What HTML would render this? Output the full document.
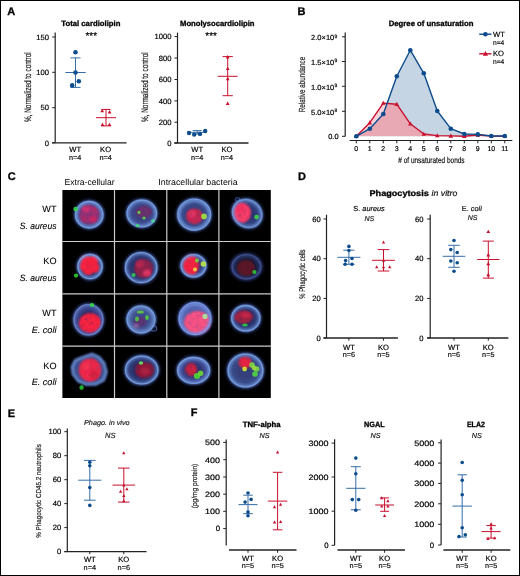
<!DOCTYPE html><html><head><meta charset="utf-8"><style>html,body{margin:0;padding:0;background:#fff;}svg{display:block;will-change:transform;}text{font-family:"Liberation Sans", sans-serif;text-rendering:geometricPrecision;}</style></head><body>
<svg width="520" height="576" viewBox="0 0 520 576">
<rect x="0" y="0" width="520" height="576" fill="#fff"/>
<text x="7.3" y="15.4" font-size="11" font-weight="bold" fill="#000" stroke="#000" stroke-width="0.3">A</text>
<text x="297.5" y="15.2" font-size="11" font-weight="bold" fill="#000" stroke="#000" stroke-width="0.3">B</text>
<text x="7.7" y="180.4" font-size="11" font-weight="bold" fill="#000" stroke="#000" stroke-width="0.3">C</text>
<text x="298.1" y="180" font-size="11" font-weight="bold" fill="#000" stroke="#000" stroke-width="0.3">D</text>
<text x="7.7" y="416.5" font-size="11" font-weight="bold" fill="#000" stroke="#000" stroke-width="0.3">E</text>
<text x="190.7" y="416.4" font-size="11" font-weight="bold" fill="#000" stroke="#000" stroke-width="0.3">F</text>
<text x="61.3" y="26.3" font-size="7.7" font-weight="bold" textLength="59.1" lengthAdjust="spacingAndGlyphs" fill="#000" stroke="#000" stroke-width="0.3">Total cardiolipin</text>
<text x="91.3" y="39.2" font-size="10" text-anchor="middle" fill="#000" stroke="#000" stroke-width="0.18">***</text>
<text transform="translate(27.9,87.2) rotate(-90)" x="0" y="3.29" font-size="9.4" text-anchor="middle" textLength="69.7" lengthAdjust="spacingAndGlyphs" fill="#222" stroke="#222" stroke-width="0.2">%, Normalized to control</text>
<line x1="55.2" y1="32.5" x2="55.2" y2="142.8" stroke="#222" stroke-width="1.2"/>
<line x1="52.2" y1="37" x2="55.2" y2="37" stroke="#222" stroke-width="1.0"/>
<text x="48.9" y="39.736" font-size="7.6" text-anchor="end" fill="#000" stroke="#000" stroke-width="0.18">150</text>
<line x1="52.2" y1="72.3" x2="55.2" y2="72.3" stroke="#222" stroke-width="1.0"/>
<text x="48.9" y="75.036" font-size="7.6" text-anchor="end" fill="#000" stroke="#000" stroke-width="0.18">100</text>
<line x1="52.2" y1="107.7" x2="55.2" y2="107.7" stroke="#222" stroke-width="1.0"/>
<text x="48.9" y="110.436" font-size="7.6" text-anchor="end" fill="#000" stroke="#000" stroke-width="0.18">50</text>
<line x1="52.2" y1="142.8" x2="55.2" y2="142.8" stroke="#222" stroke-width="1.0"/>
<text x="48.9" y="145.536" font-size="7.6" text-anchor="end" fill="#000" stroke="#000" stroke-width="0.18">0</text>
<line x1="52" y1="142.8" x2="126.6" y2="142.8" stroke="#222" stroke-width="1.3"/>
<line x1="75.5" y1="57.9" x2="75.5" y2="87.4" stroke="#356da8" stroke-width="1.0"/>
<line x1="65.3" y1="72.5" x2="85.7" y2="72.5" stroke="#356da8" stroke-width="1.0"/>
<line x1="70.5" y1="57.9" x2="80.5" y2="57.9" stroke="#356da8" stroke-width="1.0"/>
<line x1="70.5" y1="87.4" x2="80.5" y2="87.4" stroke="#356da8" stroke-width="1.0"/>
<circle cx="75.5" cy="52.2" r="2.3" fill="#0d4c8c"/>
<circle cx="75.5" cy="72.5" r="2.3" fill="#0d4c8c"/>
<circle cx="78.8" cy="81.2" r="2.3" fill="#0d4c8c"/>
<circle cx="72.2" cy="85.4" r="2.3" fill="#0d4c8c"/>
<line x1="106" y1="109.4" x2="106" y2="125.9" stroke="#c8102e" stroke-width="1.0"/>
<line x1="96" y1="117.7" x2="116" y2="117.7" stroke="#c8102e" stroke-width="1.0"/>
<line x1="101.3" y1="109.4" x2="110.7" y2="109.4" stroke="#c8102e" stroke-width="1.0"/>
<line x1="101.3" y1="125.9" x2="110.7" y2="125.9" stroke="#c8102e" stroke-width="1.0"/>
<path d="M100.30,112.31 L104.10,112.31 L102.20,108.89 Z" fill="#c8102e"/>
<path d="M107.70,113.51 L111.50,113.51 L109.60,110.09 Z" fill="#c8102e"/>
<path d="M100.60,126.11 L104.40,126.11 L102.50,122.69 Z" fill="#c8102e"/>
<path d="M107.60,126.11 L111.40,126.11 L109.50,122.69 Z" fill="#c8102e"/>
<text x="75.2" y="152.1" font-size="7.6" text-anchor="middle" fill="#000" stroke="#000" stroke-width="0.18">WT</text>
<text x="75.2" y="160.2" font-size="7.3" text-anchor="middle" fill="#111" stroke="#111" stroke-width="0.18">n=4</text>
<text x="105.6" y="152.1" font-size="7.6" text-anchor="middle" fill="#000" stroke="#000" stroke-width="0.18">KO</text>
<text x="105.6" y="160.2" font-size="7.3" text-anchor="middle" fill="#111" stroke="#111" stroke-width="0.18">n=4</text>
<text x="180" y="26.2" font-size="7.7" font-weight="bold" textLength="74.5" lengthAdjust="spacingAndGlyphs" fill="#000" stroke="#000" stroke-width="0.3">Monolysocardiolipin</text>
<text x="211.1" y="39.2" font-size="10" text-anchor="middle" fill="#000" stroke="#000" stroke-width="0.18">***</text>
<text transform="translate(145.2,87.2) rotate(-90)" x="0" y="3.29" font-size="9.4" text-anchor="middle" textLength="69.7" lengthAdjust="spacingAndGlyphs" fill="#222" stroke="#222" stroke-width="0.2">%, Normalized to control</text>
<line x1="177.5" y1="32.6" x2="177.5" y2="143" stroke="#222" stroke-width="1.2"/>
<line x1="174.5" y1="36.6" x2="177.5" y2="36.6" stroke="#222" stroke-width="1.0"/>
<text x="171.5" y="39.336" font-size="7.6" text-anchor="end" fill="#000" stroke="#000" stroke-width="0.18">1000</text>
<line x1="174.5" y1="58.0" x2="177.5" y2="58.0" stroke="#222" stroke-width="1.0"/>
<text x="171.5" y="60.736" font-size="7.6" text-anchor="end" fill="#000" stroke="#000" stroke-width="0.18">800</text>
<line x1="174.5" y1="79.5" x2="177.5" y2="79.5" stroke="#222" stroke-width="1.0"/>
<text x="171.5" y="82.236" font-size="7.6" text-anchor="end" fill="#000" stroke="#000" stroke-width="0.18">600</text>
<line x1="174.5" y1="100.9" x2="177.5" y2="100.9" stroke="#222" stroke-width="1.0"/>
<text x="171.5" y="103.63600000000001" font-size="7.6" text-anchor="end" fill="#000" stroke="#000" stroke-width="0.18">400</text>
<line x1="174.5" y1="122.2" x2="177.5" y2="122.2" stroke="#222" stroke-width="1.0"/>
<text x="171.5" y="124.936" font-size="7.6" text-anchor="end" fill="#000" stroke="#000" stroke-width="0.18">200</text>
<line x1="174.5" y1="143" x2="177.5" y2="143" stroke="#222" stroke-width="1.0"/>
<text x="171.5" y="145.736" font-size="7.6" text-anchor="end" fill="#000" stroke="#000" stroke-width="0.18">0</text>
<line x1="174.3" y1="143" x2="248.5" y2="143" stroke="#222" stroke-width="1.3"/>
<line x1="197.2" y1="130.6" x2="197.2" y2="134.0" stroke="#356da8" stroke-width="1.0"/>
<line x1="187.7" y1="132.3" x2="206.7" y2="132.3" stroke="#356da8" stroke-width="1.0"/>
<line x1="192.7" y1="130.6" x2="201.7" y2="130.6" stroke="#356da8" stroke-width="1.0"/>
<line x1="192.7" y1="134.0" x2="201.7" y2="134.0" stroke="#356da8" stroke-width="1.0"/>
<circle cx="189" cy="133" r="2.2" fill="#0d4c8c"/>
<circle cx="194.2" cy="134.6" r="2.2" fill="#0d4c8c"/>
<circle cx="200" cy="133.9" r="2.2" fill="#0d4c8c"/>
<circle cx="205.2" cy="131" r="2.2" fill="#0d4c8c"/>
<line x1="227.7" y1="56.6" x2="227.7" y2="95.7" stroke="#c8102e" stroke-width="1.0"/>
<line x1="217.7" y1="76.3" x2="237.7" y2="76.3" stroke="#c8102e" stroke-width="1.0"/>
<line x1="222.6" y1="56.6" x2="232.79999999999998" y2="56.6" stroke="#c8102e" stroke-width="1.0"/>
<line x1="222.6" y1="95.7" x2="232.79999999999998" y2="95.7" stroke="#c8102e" stroke-width="1.0"/>
<path d="M225.80,58.51 L229.60,58.51 L227.70,55.09 Z" fill="#c8102e"/>
<path d="M225.80,70.11 L229.60,70.11 L227.70,66.69 Z" fill="#c8102e"/>
<path d="M225.80,80.21 L229.60,80.21 L227.70,76.79 Z" fill="#c8102e"/>
<path d="M225.80,104.91 L229.60,104.91 L227.70,101.49 Z" fill="#c8102e"/>
<text x="197.2" y="152.1" font-size="7.6" text-anchor="middle" fill="#000" stroke="#000" stroke-width="0.18">WT</text>
<text x="197.2" y="160.2" font-size="7.3" text-anchor="middle" fill="#111" stroke="#111" stroke-width="0.18">n=4</text>
<text x="226.9" y="152.1" font-size="7.6" text-anchor="middle" fill="#000" stroke="#000" stroke-width="0.18">KO</text>
<text x="226.9" y="160.2" font-size="7.3" text-anchor="middle" fill="#111" stroke="#111" stroke-width="0.18">n=4</text>
<defs><clipPath id="wtclip"><polygon points="356.3,136.3 356.30,136.30 369.80,128.70 383.30,114.00 396.80,76.20 410.30,50.20 423.80,73.30 437.30,111.00 450.80,128.70 464.30,134.00 477.80,134.40 491.30,136.00 504.80,136.00 504.8,136.3"/></clipPath></defs>
<polygon points="356.3,136.3 356.30,136.30 369.80,122.70 383.30,103.10 396.80,104.20 410.30,123.80 423.80,134.00 437.30,135.60 450.80,135.90 464.30,136.30 477.80,135.00 491.30,136.00 504.80,136.20 504.8,136.3" fill="#f6d3d9"/>
<polygon points="356.3,136.3 356.30,136.30 369.80,128.70 383.30,114.00 396.80,76.20 410.30,50.20 423.80,73.30 437.30,111.00 450.80,128.70 464.30,134.00 477.80,134.40 491.30,136.00 504.80,136.00 504.8,136.3" fill="#c5d5e3"/>
<polygon points="356.3,136.3 356.30,136.30 369.80,122.70 383.30,103.10 396.80,104.20 410.30,123.80 423.80,134.00 437.30,135.60 450.80,135.90 464.30,136.30 477.80,135.00 491.30,136.00 504.80,136.20 504.8,136.3" fill="#e8a8b4" clip-path="url(#wtclip)"/>
<polyline points="356.30,136.30 369.80,122.70 383.30,103.10 396.80,104.20 410.30,123.80 423.80,134.00 437.30,135.60 450.80,135.90 464.30,136.30 477.80,135.00 491.30,136.00 504.80,136.20" fill="none" stroke="#c8102e" stroke-width="1.4" stroke-linejoin="round"/>
<path d="M354.00,138.07 L358.60,138.07 L356.30,133.93 Z" fill="#c8102e"/>
<path d="M367.50,124.47 L372.10,124.47 L369.80,120.33 Z" fill="#c8102e"/>
<path d="M381.00,104.87 L385.60,104.87 L383.30,100.73 Z" fill="#c8102e"/>
<path d="M394.50,105.97 L399.10,105.97 L396.80,101.83 Z" fill="#c8102e"/>
<path d="M408.00,125.57 L412.60,125.57 L410.30,121.43 Z" fill="#c8102e"/>
<path d="M421.50,135.77 L426.10,135.77 L423.80,131.63 Z" fill="#c8102e"/>
<path d="M435.00,137.37 L439.60,137.37 L437.30,133.23 Z" fill="#c8102e"/>
<path d="M448.50,137.67 L453.10,137.67 L450.80,133.53 Z" fill="#c8102e"/>
<path d="M462.00,138.07 L466.60,138.07 L464.30,133.93 Z" fill="#c8102e"/>
<path d="M475.50,136.77 L480.10,136.77 L477.80,132.63 Z" fill="#c8102e"/>
<path d="M489.00,137.77 L493.60,137.77 L491.30,133.63 Z" fill="#c8102e"/>
<path d="M502.50,137.97 L507.10,137.97 L504.80,133.83 Z" fill="#c8102e"/>
<polyline points="356.30,136.30 369.80,128.70 383.30,114.00 396.80,76.20 410.30,50.20 423.80,73.30 437.30,111.00 450.80,128.70 464.30,134.00 477.80,134.40 491.30,136.00 504.80,136.00" fill="none" stroke="#0d4c8c" stroke-width="1.4" stroke-linejoin="round"/>
<circle cx="356.3" cy="136.3" r="2.3" fill="#0d4c8c"/>
<circle cx="369.8" cy="128.7" r="2.3" fill="#0d4c8c"/>
<circle cx="383.3" cy="114" r="2.3" fill="#0d4c8c"/>
<circle cx="396.8" cy="76.2" r="2.3" fill="#0d4c8c"/>
<circle cx="410.3" cy="50.2" r="2.3" fill="#0d4c8c"/>
<circle cx="423.8" cy="73.3" r="2.3" fill="#0d4c8c"/>
<circle cx="437.3" cy="111" r="2.3" fill="#0d4c8c"/>
<circle cx="450.8" cy="128.7" r="2.3" fill="#0d4c8c"/>
<circle cx="464.3" cy="134" r="2.3" fill="#0d4c8c"/>
<circle cx="477.8" cy="134.4" r="2.3" fill="#0d4c8c"/>
<circle cx="491.3" cy="136" r="2.3" fill="#0d4c8c"/>
<circle cx="504.8" cy="136" r="2.3" fill="#0d4c8c"/>
<line x1="345.2" y1="32.4" x2="345.2" y2="136.6" stroke="#222" stroke-width="1.2"/>
<line x1="342" y1="36.8" x2="345.2" y2="36.8" stroke="#222" stroke-width="1.0"/>
<line x1="342" y1="61.5" x2="345.2" y2="61.5" stroke="#222" stroke-width="1.0"/>
<line x1="342" y1="86.3" x2="345.2" y2="86.3" stroke="#222" stroke-width="1.0"/>
<line x1="342" y1="111.3" x2="345.2" y2="111.3" stroke="#222" stroke-width="1.0"/>
<line x1="342" y1="136.3" x2="345.2" y2="136.3" stroke="#222" stroke-width="1.0"/>
<line x1="349.6" y1="140.5" x2="512.3" y2="140.5" stroke="#222" stroke-width="1.2"/>
<line x1="356.3" y1="140.5" x2="356.3" y2="143.3" stroke="#222" stroke-width="1.0"/>
<text x="356.3" y="151.3" font-size="7" text-anchor="middle" fill="#000" stroke="#000" stroke-width="0.18">0</text>
<line x1="369.8" y1="140.5" x2="369.8" y2="143.3" stroke="#222" stroke-width="1.0"/>
<text x="369.8" y="151.3" font-size="7" text-anchor="middle" fill="#000" stroke="#000" stroke-width="0.18">1</text>
<line x1="383.3" y1="140.5" x2="383.3" y2="143.3" stroke="#222" stroke-width="1.0"/>
<text x="383.3" y="151.3" font-size="7" text-anchor="middle" fill="#000" stroke="#000" stroke-width="0.18">2</text>
<line x1="396.8" y1="140.5" x2="396.8" y2="143.3" stroke="#222" stroke-width="1.0"/>
<text x="396.8" y="151.3" font-size="7" text-anchor="middle" fill="#000" stroke="#000" stroke-width="0.18">3</text>
<line x1="410.3" y1="140.5" x2="410.3" y2="143.3" stroke="#222" stroke-width="1.0"/>
<text x="410.3" y="151.3" font-size="7" text-anchor="middle" fill="#000" stroke="#000" stroke-width="0.18">4</text>
<line x1="423.8" y1="140.5" x2="423.8" y2="143.3" stroke="#222" stroke-width="1.0"/>
<text x="423.8" y="151.3" font-size="7" text-anchor="middle" fill="#000" stroke="#000" stroke-width="0.18">5</text>
<line x1="437.3" y1="140.5" x2="437.3" y2="143.3" stroke="#222" stroke-width="1.0"/>
<text x="437.3" y="151.3" font-size="7" text-anchor="middle" fill="#000" stroke="#000" stroke-width="0.18">6</text>
<line x1="450.8" y1="140.5" x2="450.8" y2="143.3" stroke="#222" stroke-width="1.0"/>
<text x="450.8" y="151.3" font-size="7" text-anchor="middle" fill="#000" stroke="#000" stroke-width="0.18">7</text>
<line x1="464.3" y1="140.5" x2="464.3" y2="143.3" stroke="#222" stroke-width="1.0"/>
<text x="464.3" y="151.3" font-size="7" text-anchor="middle" fill="#000" stroke="#000" stroke-width="0.18">8</text>
<line x1="477.8" y1="140.5" x2="477.8" y2="143.3" stroke="#222" stroke-width="1.0"/>
<text x="477.8" y="151.3" font-size="7" text-anchor="middle" fill="#000" stroke="#000" stroke-width="0.18">9</text>
<line x1="491.3" y1="140.5" x2="491.3" y2="143.3" stroke="#222" stroke-width="1.0"/>
<text x="491.3" y="151.3" font-size="7" text-anchor="middle" fill="#000" stroke="#000" stroke-width="0.18">10</text>
<line x1="504.8" y1="140.5" x2="504.8" y2="143.3" stroke="#222" stroke-width="1.0"/>
<text x="504.8" y="151.3" font-size="7" text-anchor="middle" fill="#000" stroke="#000" stroke-width="0.18">11</text>
<text x="334.3" y="40.0" font-size="7.4" text-anchor="end" textLength="23.2" lengthAdjust="spacingAndGlyphs" fill="#000" stroke="#000" stroke-width="0.18">2.0×10</text>
<text x="334.5" y="37.699999999999996" font-size="5.0" fill="#000" stroke="#000" stroke-width="0.18">9</text>
<text x="334.3" y="64.7" font-size="7.4" text-anchor="end" textLength="23.2" lengthAdjust="spacingAndGlyphs" fill="#000" stroke="#000" stroke-width="0.18">1.5×10</text>
<text x="334.5" y="62.4" font-size="5.0" fill="#000" stroke="#000" stroke-width="0.18">9</text>
<text x="334.3" y="89.5" font-size="7.4" text-anchor="end" textLength="23.2" lengthAdjust="spacingAndGlyphs" fill="#000" stroke="#000" stroke-width="0.18">1.0×10</text>
<text x="334.5" y="87.2" font-size="5.0" fill="#000" stroke="#000" stroke-width="0.18">9</text>
<text x="334.3" y="114.5" font-size="7.4" text-anchor="end" textLength="23.2" lengthAdjust="spacingAndGlyphs" fill="#000" stroke="#000" stroke-width="0.18">5.0×10</text>
<text x="334.5" y="112.2" font-size="5.0" fill="#000" stroke="#000" stroke-width="0.18">8</text>
<text x="338.5" y="139.0" font-size="7.4" text-anchor="end" fill="#000" stroke="#000" stroke-width="0.18">0.0</text>
<text transform="translate(301.8,84.5) rotate(-90)" x="0" y="3.08" font-size="8.8" text-anchor="middle" textLength="55.4" lengthAdjust="spacingAndGlyphs" fill="#222" stroke="#222" stroke-width="0.2">Relative abundance</text>
<text x="388.7" y="26.4" font-size="7.7" font-weight="bold" textLength="84.8" lengthAdjust="spacingAndGlyphs" fill="#000" stroke="#000" stroke-width="0.3">Degree of unsaturation</text>
<text x="398.3" y="162.7" font-size="8.4" textLength="66.3" lengthAdjust="spacingAndGlyphs" fill="#111" stroke="#111" stroke-width="0.18"># of unsaturated bonds</text>
<line x1="479.2" y1="34.2" x2="491.5" y2="34.2" stroke="#0d4c8c" stroke-width="1.4"/>
<circle cx="485.4" cy="34.2" r="2.3" fill="#0d4c8c"/>
<text x="493" y="36.8" font-size="7.6" fill="#000" stroke="#000" stroke-width="0.18">WT</text>
<text x="493" y="44.8" font-size="6.9" textLength="11.3" lengthAdjust="spacingAndGlyphs" fill="#111" stroke="#111" stroke-width="0.18">n=4</text>
<line x1="479.2" y1="53.8" x2="491.5" y2="53.8" stroke="#c8102e" stroke-width="1.4"/>
<path d="M482.80,55.64 L488.00,55.64 L485.40,50.96 Z" fill="#c8102e"/>
<text x="493" y="56.4" font-size="7.6" fill="#000" stroke="#000" stroke-width="0.18">KO</text>
<text x="493" y="64.2" font-size="6.9" textLength="11.3" lengthAdjust="spacingAndGlyphs" fill="#111" stroke="#111" stroke-width="0.18">n=4</text>
<defs>
<filter id="b3" x="-60%" y="-60%" width="220%" height="220%"><feGaussianBlur stdDeviation="3"/></filter>
<filter id="b2" x="-60%" y="-60%" width="220%" height="220%"><feGaussianBlur stdDeviation="2"/></filter>
<filter id="b15" x="-60%" y="-60%" width="220%" height="220%"><feGaussianBlur stdDeviation="1.5"/></filter>
<filter id="b11" x="-60%" y="-60%" width="220%" height="220%"><feGaussianBlur stdDeviation="1.1"/></filter>
<filter id="b1" x="-60%" y="-60%" width="220%" height="220%"><feGaussianBlur stdDeviation="1"/></filter>
<filter id="b08" x="-60%" y="-60%" width="220%" height="220%"><feGaussianBlur stdDeviation="0.8"/></filter>
<filter id="b07" x="-60%" y="-60%" width="220%" height="220%"><feGaussianBlur stdDeviation="0.7"/></filter>
<filter id="b05" x="-60%" y="-60%" width="220%" height="220%"><feGaussianBlur stdDeviation="0.5"/></filter>
<clipPath id="cc00"><rect x="62.4" y="190.0" width="51.60" height="51.00"/></clipPath>
<clipPath id="cc01"><rect x="115.0" y="190.0" width="51.30" height="51.00"/></clipPath>
<clipPath id="cc02"><rect x="167.3" y="190.0" width="51.10" height="51.00"/></clipPath>
<clipPath id="cc03"><rect x="219.4" y="190.0" width="51.40" height="51.00"/></clipPath>
<clipPath id="cc10"><rect x="62.4" y="242.0" width="51.60" height="51.30"/></clipPath>
<clipPath id="cc11"><rect x="115.0" y="242.0" width="51.30" height="51.30"/></clipPath>
<clipPath id="cc12"><rect x="167.3" y="242.0" width="51.10" height="51.30"/></clipPath>
<clipPath id="cc13"><rect x="219.4" y="242.0" width="51.40" height="51.30"/></clipPath>
<clipPath id="cc20"><rect x="62.4" y="294.3" width="51.60" height="51.30"/></clipPath>
<clipPath id="cc21"><rect x="115.0" y="294.3" width="51.30" height="51.30"/></clipPath>
<clipPath id="cc22"><rect x="167.3" y="294.3" width="51.10" height="51.30"/></clipPath>
<clipPath id="cc23"><rect x="219.4" y="294.3" width="51.40" height="51.30"/></clipPath>
<clipPath id="cc30"><rect x="62.4" y="346.6" width="51.60" height="51.40"/></clipPath>
<clipPath id="cc31"><rect x="115.0" y="346.6" width="51.30" height="51.40"/></clipPath>
<clipPath id="cc32"><rect x="167.3" y="346.6" width="51.10" height="51.40"/></clipPath>
<clipPath id="cc33"><rect x="219.4" y="346.6" width="51.40" height="51.40"/></clipPath>
<filter id="tex" x="-30%" y="-30%" width="160%" height="160%"><feGaussianBlur in="SourceGraphic" stdDeviation="1.1" result="bl"/><feTurbulence type="fractalNoise" baseFrequency="0.28" numOctaves="2" seed="7" result="n"/><feColorMatrix in="n" type="matrix" values="0 0 0 0 1  0 0 0 0 1  0 0 0 0 1  0.9 0.9 0 0 0" result="nm"/><feComposite in="bl" in2="nm" operator="arithmetic" k1="0.6" k2="0.48" k3="0" k4="0"/></filter>
</defs>
<rect x="62.4" y="190.0" width="208.40" height="208.00" fill="#000"/>
<g clip-path="url(#cc00)">
<radialGradient id="g00"><stop offset="0" stop-color="#3a2e78"/><stop offset="0.45" stop-color="#3a2e78"/><stop offset="1" stop-color="#3a5090"/></radialGradient>
<ellipse cx="89.2" cy="214.7" rx="14.8" ry="14.3" fill="none" stroke="#1e2858" stroke-width="2.2" filter="url(#b15)"/>
<ellipse cx="89.2" cy="214.7" rx="13.600000000000001" ry="13.100000000000001" fill="url(#g00)" filter="url(#b1)"/>
<ellipse cx="89.5" cy="214.5" rx="10.5" ry="10" fill="#8e3074" filter="url(#tex)"/>
<ellipse cx="86" cy="209" rx="4" ry="3.5" fill="#c83070" filter="url(#tex)"/>
<ellipse cx="93" cy="219" rx="4" ry="3.5" fill="#c02868" filter="url(#tex)"/>
<ellipse cx="84" cy="219" rx="3" ry="3" fill="#a82a66" filter="url(#tex)"/>
<ellipse cx="94" cy="210" rx="2.5" ry="2.5" fill="#b02a66" filter="url(#tex)"/>
<ellipse cx="89.2" cy="214.7" rx="12.80" ry="12.30" fill="none" stroke="#78a0e6" stroke-width="3.40" stroke-opacity="0.75" filter="url(#b1)"/>
<ellipse cx="89.2" cy="214.7" rx="13.70" ry="13.20" fill="none" stroke="#78a0e6" stroke-width="1.3" stroke-opacity="0.9" filter="url(#b05)"/>
<ellipse cx="75.6" cy="209" rx="2.3" ry="2.3" fill="#30e040" fill-opacity="0.85" filter="url(#b05)"/>
</g>
<g clip-path="url(#cc01)">
<radialGradient id="g01"><stop offset="0" stop-color="#3a4284"/><stop offset="0.45" stop-color="#3a4284"/><stop offset="1" stop-color="#3e5496"/></radialGradient>
<ellipse cx="141.8" cy="213.5" rx="15.8" ry="14.5" fill="none" stroke="#1e2858" stroke-width="2.2" filter="url(#b15)"/>
<ellipse cx="141.8" cy="213.5" rx="14.600000000000001" ry="13.3" fill="url(#g01)" filter="url(#b1)"/>
<ellipse cx="144" cy="212" rx="8" ry="6" fill="#6a2e6a" filter="url(#tex)"/>
<ellipse cx="141.8" cy="213.5" rx="14.00" ry="12.70" fill="none" stroke="#78a0e6" stroke-width="3.00" stroke-opacity="0.75" filter="url(#b1)"/>
<ellipse cx="141.8" cy="213.5" rx="14.70" ry="13.40" fill="none" stroke="#78a0e6" stroke-width="1.3" stroke-opacity="0.9" filter="url(#b05)"/>
<ellipse cx="139" cy="212.4" rx="1.6" ry="1.6" fill="#60e040" fill-opacity="0.85" filter="url(#b05)"/>
<ellipse cx="144" cy="218" rx="1.6" ry="1.6" fill="#60e040" fill-opacity="0.85" filter="url(#b05)"/>
<ellipse cx="137.6" cy="225.6" rx="1.9" ry="1.6" fill="#40e070" fill-opacity="0.85" filter="url(#b05)"/>
<ellipse cx="153" cy="221" rx="1.9" ry="1.8" fill="#40e090" fill-opacity="0.85" filter="url(#b05)"/>
</g>
<g clip-path="url(#cc02)">
<radialGradient id="g02"><stop offset="0" stop-color="#34427e"/><stop offset="0.45" stop-color="#34427e"/><stop offset="1" stop-color="#3c5296"/></radialGradient>
<ellipse cx="194.2" cy="214.6" rx="17.5" ry="16.5" fill="none" stroke="#1e2858" stroke-width="2.2" filter="url(#b15)"/>
<ellipse cx="194.2" cy="214.6" rx="16.3" ry="15.3" fill="url(#g02)" filter="url(#b1)"/>
<ellipse cx="194.5" cy="216.2" rx="8.5" ry="7.8" fill="#c02850" filter="url(#tex)"/>
<ellipse cx="192" cy="214" rx="4" ry="4" fill="#d83060" filter="url(#tex)"/>
<ellipse cx="194.2" cy="214.6" rx="15.40" ry="14.40" fill="none" stroke="#78a0e6" stroke-width="3.60" stroke-opacity="0.75" filter="url(#b1)"/>
<ellipse cx="194.2" cy="214.6" rx="16.40" ry="15.40" fill="none" stroke="#78a0e6" stroke-width="1.3" stroke-opacity="0.9" filter="url(#b05)"/>
<ellipse cx="204" cy="216.4" rx="2.8" ry="2.8" fill="#a8f040" fill-opacity="0.85" filter="url(#b05)"/>
</g>
<g clip-path="url(#cc03)">
<radialGradient id="g03"><stop offset="0" stop-color="#2a3470"/><stop offset="0.45" stop-color="#2a3470"/><stop offset="1" stop-color="#3a5090"/></radialGradient>
<ellipse cx="247.2" cy="213.5" rx="16.2" ry="14.5" fill="none" stroke="#1e2858" stroke-width="2.2" filter="url(#b15)" transform="rotate(35 247.2 213.5)"/>
<ellipse cx="247.2" cy="213.5" rx="15.0" ry="13.3" fill="url(#g03)" filter="url(#b1)" transform="rotate(35 247.2 213.5)"/>
<ellipse cx="242" cy="212.7" rx="9" ry="10.3" fill="#f23a66" filter="url(#tex)"/>
<ellipse cx="240" cy="208" rx="4" ry="4" fill="#f03060" filter="url(#tex)"/>
<ellipse cx="237.5" cy="199.5" rx="2.2" ry="1.8" fill="none" stroke="#2a3a7a" stroke-width="1.3" filter="url(#b05)"/>
<ellipse cx="247.2" cy="213.5" rx="14.60" ry="12.90" fill="none" stroke="#78a0e6" stroke-width="2.60" stroke-opacity="0.75" filter="url(#b1)" transform="rotate(35 247.2 213.5)"/>
<ellipse cx="247.2" cy="213.5" rx="15.10" ry="13.40" fill="none" stroke="#78a0e6" stroke-width="1.3" stroke-opacity="0.9" filter="url(#b05)" transform="rotate(35 247.2 213.5)"/>
<ellipse cx="256.6" cy="217" rx="2.3" ry="2.3" fill="#40e040" fill-opacity="0.85" filter="url(#b05)"/>
</g>
<g clip-path="url(#cc10)">
<radialGradient id="g10"><stop offset="0" stop-color="#2a3470"/><stop offset="0.45" stop-color="#2a3470"/><stop offset="1" stop-color="#3a5090"/></radialGradient>
<ellipse cx="90" cy="266.6" rx="13.2" ry="13.2" fill="none" stroke="#1e2858" stroke-width="2.2" filter="url(#b15)"/>
<ellipse cx="90" cy="266.6" rx="12.0" ry="12.0" fill="url(#g10)" filter="url(#b1)"/>
<ellipse cx="89.7" cy="264.5" rx="8.5" ry="8.8" fill="#f0223f" filter="url(#tex)"/>
<ellipse cx="85" cy="260" rx="4.5" ry="4.5" fill="#f0223f" filter="url(#tex)"/>
<ellipse cx="94" cy="259.5" rx="4.5" ry="4" fill="#f0223f" filter="url(#tex)"/>
<ellipse cx="95.5" cy="268" rx="4" ry="4.5" fill="#f0223f" filter="url(#tex)"/>
<ellipse cx="88" cy="271" rx="5" ry="4" fill="#f0223f" filter="url(#tex)"/>
<ellipse cx="83.5" cy="266.5" rx="4" ry="4" fill="#f0223f" filter="url(#tex)"/>
<ellipse cx="90" cy="266.6" rx="11.60" ry="11.60" fill="none" stroke="#78a0e6" stroke-width="2.60" stroke-opacity="0.75" filter="url(#b1)"/>
<ellipse cx="90" cy="266.6" rx="12.10" ry="12.10" fill="none" stroke="#78a0e6" stroke-width="1.3" stroke-opacity="0.9" filter="url(#b05)"/>
<ellipse cx="76" cy="275.6" rx="2.1" ry="2.1" fill="#30e030" fill-opacity="0.85" filter="url(#b05)"/>
</g>
<g clip-path="url(#cc11)">
<radialGradient id="g11"><stop offset="0" stop-color="#262e64"/><stop offset="0.45" stop-color="#262e64"/><stop offset="1" stop-color="#354a8a"/></radialGradient>
<ellipse cx="141.2" cy="267.6" rx="16.8" ry="16.0" fill="none" stroke="#1e2858" stroke-width="2.2" filter="url(#b15)"/>
<ellipse cx="141.2" cy="267.6" rx="15.600000000000001" ry="14.8" fill="url(#g11)" filter="url(#b1)"/>
<ellipse cx="143.5" cy="268.5" rx="9.5" ry="9.5" fill="#8a2048" filter="url(#tex)"/>
<ellipse cx="140" cy="264" rx="4" ry="4" fill="#b02850" filter="url(#tex)"/>
<ellipse cx="147" cy="273" rx="4" ry="3.5" fill="#d83060" filter="url(#tex)"/>
<ellipse cx="141.2" cy="267.6" rx="15.30" ry="14.50" fill="none" stroke="#78a0e6" stroke-width="2.40" stroke-opacity="0.75" filter="url(#b1)"/>
<ellipse cx="141.2" cy="267.6" rx="15.70" ry="14.90" fill="none" stroke="#78a0e6" stroke-width="1.3" stroke-opacity="0.9" filter="url(#b05)"/>
<ellipse cx="133.6" cy="275" rx="2.0" ry="2.0" fill="#30d050" fill-opacity="0.85" filter="url(#b05)"/>
</g>
<g clip-path="url(#cc12)">
<radialGradient id="g12"><stop offset="0" stop-color="#30387a"/><stop offset="0.45" stop-color="#30387a"/><stop offset="1" stop-color="#3c5296"/></radialGradient>
<ellipse cx="193.5" cy="265.8" rx="13.5" ry="12.2" fill="none" stroke="#1e2858" stroke-width="2.2" filter="url(#b15)"/>
<ellipse cx="193.5" cy="265.8" rx="12.3" ry="11.0" fill="url(#g12)" filter="url(#b1)"/>
<ellipse cx="190.8" cy="265.2" rx="8.2" ry="10.5" fill="#f0223f" filter="url(#tex)"/>
<ellipse cx="193.5" cy="265.8" rx="11.90" ry="10.60" fill="none" stroke="#78a0e6" stroke-width="2.60" stroke-opacity="0.75" filter="url(#b1)"/>
<ellipse cx="193.5" cy="265.8" rx="12.40" ry="11.10" fill="none" stroke="#78a0e6" stroke-width="1.3" stroke-opacity="0.9" filter="url(#b05)"/>
<ellipse cx="197" cy="260.4" rx="2" ry="2" fill="#60e040" fill-opacity="0.85" filter="url(#b05)"/>
<ellipse cx="203.4" cy="264" rx="2.8" ry="2.8" fill="#c0f040" fill-opacity="0.85" filter="url(#b05)"/>
<ellipse cx="195" cy="269.6" rx="2" ry="2" fill="#f0e040" fill-opacity="0.85" filter="url(#b05)"/>
</g>
<g clip-path="url(#cc13)">
<radialGradient id="g13"><stop offset="0" stop-color="#12142c"/><stop offset="0.45" stop-color="#12142c"/><stop offset="1" stop-color="#242e5c"/></radialGradient>
<ellipse cx="246.5" cy="266.8" rx="15.5" ry="13.2" fill="none" stroke="#1e2858" stroke-width="2.2" filter="url(#b15)"/>
<ellipse cx="246.5" cy="266.8" rx="14.3" ry="12.0" fill="url(#g13)" filter="url(#b1)"/>
<ellipse cx="246" cy="268" rx="9" ry="8" fill="#5a1428" filter="url(#tex)"/>
<ellipse cx="246.5" cy="266.8" rx="14.10" ry="11.80" fill="none" stroke="#405090" stroke-width="2.20" stroke-opacity="0.75" filter="url(#b1)"/>
<ellipse cx="246.5" cy="266.8" rx="14.40" ry="12.10" fill="none" stroke="#405090" stroke-width="1.3" stroke-opacity="0.9" filter="url(#b05)"/>
<ellipse cx="254.4" cy="272" rx="2.1" ry="2.1" fill="#30d030" fill-opacity="0.85" filter="url(#b05)"/>
</g>
<g clip-path="url(#cc20)">
<radialGradient id="g20"><stop offset="0" stop-color="#262a60"/><stop offset="0.45" stop-color="#262a60"/><stop offset="1" stop-color="#4858a8"/></radialGradient>
<ellipse cx="88.5" cy="319.8" rx="15.5" ry="16.2" fill="none" stroke="#1e2858" stroke-width="2.2" filter="url(#b15)"/>
<ellipse cx="88.5" cy="319.8" rx="14.3" ry="15.0" fill="url(#g20)" filter="url(#b1)"/>
<ellipse cx="90" cy="323" rx="11" ry="10" fill="#f0223f" filter="url(#tex)"/>
<ellipse cx="88.5" cy="319.8" rx="14.20" ry="14.90" fill="none" stroke="#6a84d0" stroke-width="2.00" stroke-opacity="0.75" filter="url(#b1)"/>
<ellipse cx="88.5" cy="319.8" rx="14.40" ry="15.10" fill="none" stroke="#6a84d0" stroke-width="1.3" stroke-opacity="0.9" filter="url(#b05)"/>
<ellipse cx="92" cy="305" rx="2.3" ry="2.0" fill="#30e040" fill-opacity="0.85" filter="url(#b05)"/>
</g>
<g clip-path="url(#cc21)">
<radialGradient id="g21"><stop offset="0" stop-color="#3c4c8a"/><stop offset="0.45" stop-color="#3c4c8a"/><stop offset="1" stop-color="#5068a8"/></radialGradient>
<ellipse cx="141" cy="319.5" rx="15" ry="14.5" fill="none" stroke="#1e2858" stroke-width="2.2" filter="url(#b15)"/>
<ellipse cx="141" cy="319.5" rx="13.8" ry="13.3" fill="url(#g21)" filter="url(#b1)"/>
<ellipse cx="140" cy="322" rx="6" ry="5" fill="#5a3070" filter="url(#tex)"/>
<ellipse cx="136" cy="326" rx="3" ry="2.5" fill="#8060a0" filter="url(#tex)"/>
<ellipse cx="153.5" cy="328.5" rx="3.2" ry="2.6" fill="none" stroke="#34487e" stroke-width="1.3" filter="url(#b05)"/>
<ellipse cx="141" cy="319.5" rx="13.20" ry="12.70" fill="none" stroke="#78a0e6" stroke-width="3.00" stroke-opacity="0.75" filter="url(#b1)"/>
<ellipse cx="141" cy="319.5" rx="13.90" ry="13.40" fill="none" stroke="#78a0e6" stroke-width="1.3" stroke-opacity="0.9" filter="url(#b05)"/>
<ellipse cx="140.4" cy="312" rx="3.5" ry="1.6" fill="#60d040" fill-opacity="0.85" filter="url(#b05)"/>
<ellipse cx="137" cy="319" rx="2.0" ry="2.4" fill="#50d040" fill-opacity="0.85" filter="url(#b05)"/>
<ellipse cx="147" cy="317.6" rx="1.8" ry="2.5" fill="#50d040" fill-opacity="0.85" filter="url(#b05)"/>
</g>
<g clip-path="url(#cc22)">
<radialGradient id="g22"><stop offset="0" stop-color="#4a5aa8"/><stop offset="0.45" stop-color="#4a5aa8"/><stop offset="1" stop-color="#6078c0"/></radialGradient>
<ellipse cx="195" cy="318.6" rx="17" ry="17" fill="none" stroke="#1e2858" stroke-width="2.2" filter="url(#b15)"/>
<ellipse cx="195" cy="318.6" rx="15.8" ry="15.8" fill="url(#g22)" filter="url(#b1)"/>
<ellipse cx="197.3" cy="322.5" rx="13.3" ry="11.5" fill="#f05080" filter="url(#tex)"/>
<ellipse cx="195" cy="318.6" rx="15.20" ry="15.20" fill="none" stroke="#7a98ec" stroke-width="3.00" stroke-opacity="0.75" filter="url(#b1)"/>
<ellipse cx="195" cy="318.6" rx="15.90" ry="15.90" fill="none" stroke="#7a98ec" stroke-width="1.3" stroke-opacity="0.9" filter="url(#b05)"/>
<ellipse cx="205" cy="316.4" rx="2.6" ry="2.6" fill="#a0f0a0" fill-opacity="0.85" filter="url(#b05)"/>
</g>
<g clip-path="url(#cc23)">
<radialGradient id="g23"><stop offset="0" stop-color="#262e64"/><stop offset="0.45" stop-color="#262e64"/><stop offset="1" stop-color="#354a8a"/></radialGradient>
<ellipse cx="245.8" cy="318.2" rx="15.2" ry="13.8" fill="none" stroke="#1e2858" stroke-width="2.2" filter="url(#b15)"/>
<ellipse cx="245.8" cy="318.2" rx="14.0" ry="12.600000000000001" fill="url(#g23)" filter="url(#b1)"/>
<ellipse cx="243.5" cy="317" rx="9.5" ry="6.5" fill="#a02040" filter="url(#tex)"/>
<ellipse cx="246" cy="315" rx="4" ry="3" fill="#c02848" filter="url(#tex)"/>
<ellipse cx="245.8" cy="318.2" rx="13.60" ry="12.20" fill="none" stroke="#78a0e6" stroke-width="2.60" stroke-opacity="0.75" filter="url(#b1)"/>
<ellipse cx="245.8" cy="318.2" rx="14.10" ry="12.70" fill="none" stroke="#78a0e6" stroke-width="1.3" stroke-opacity="0.9" filter="url(#b05)"/>
<ellipse cx="245" cy="325" rx="2.8" ry="1.6" fill="#30d040" fill-opacity="0.85" filter="url(#b05)"/>
</g>
<g clip-path="url(#cc30)">
<radialGradient id="g30"><stop offset="0" stop-color="#2a3470"/><stop offset="0.45" stop-color="#2a3470"/><stop offset="1" stop-color="#3a5090"/></radialGradient>
<path d="M80,358.5 L92,354.2 L99,357.5 L104,363.5 L106.2,372 L103.5,380 L96,384 L86,384.3 L78.5,381 L73.2,374 L72.4,366.5 L75.5,360.5 Z" fill="none" stroke="#1e2858" stroke-width="2.5" stroke-linejoin="round" filter="url(#b15)"/>
<path d="M80,358.5 L92,354.2 L99,357.5 L104,363.5 L106.2,372 L103.5,380 L96,384 L86,384.3 L78.5,381 L73.2,374 L72.4,366.5 L75.5,360.5 Z" fill="#3a5090" stroke="none" filter="url(#b1)"/>
<ellipse cx="90" cy="370" rx="11.2" ry="11.8" fill="#e82848" filter="url(#tex)"/>
<ellipse cx="86" cy="366" rx="4" ry="4" fill="#f03050" filter="url(#tex)"/>
<ellipse cx="94" cy="375" rx="4" ry="4" fill="#d02040" filter="url(#tex)"/>
<path d="M80,358.5 L92,354.2 L99,357.5 L104,363.5 L106.2,372 L103.5,380 L96,384 L86,384.3 L78.5,381 L73.2,374 L72.4,366.5 L75.5,360.5 Z" fill="none" stroke="#78a0e6" stroke-width="2.80" stroke-opacity="0.8" stroke-linejoin="round" filter="url(#b1)"/>
<ellipse cx="81.6" cy="387.6" rx="2.2" ry="2.4" fill="#20d030" fill-opacity="0.85" filter="url(#b05)"/>
</g>
<g clip-path="url(#cc31)">
<radialGradient id="g31"><stop offset="0" stop-color="#262e64"/><stop offset="0.45" stop-color="#262e64"/><stop offset="1" stop-color="#354a8a"/></radialGradient>
<ellipse cx="141.7" cy="370" rx="17.3" ry="15" fill="none" stroke="#1e2858" stroke-width="2.2" filter="url(#b15)"/>
<ellipse cx="141.7" cy="370" rx="16.1" ry="13.8" fill="url(#g31)" filter="url(#b1)"/>
<ellipse cx="144.5" cy="370" rx="9.5" ry="8" fill="#8a1838" filter="url(#tex)"/>
<ellipse cx="145" cy="371" rx="5" ry="4" fill="#a82040" filter="url(#tex)"/>
<ellipse cx="141.7" cy="370" rx="15.80" ry="13.50" fill="none" stroke="#78a0e6" stroke-width="2.40" stroke-opacity="0.75" filter="url(#b1)"/>
<ellipse cx="141.7" cy="370" rx="16.20" ry="13.90" fill="none" stroke="#78a0e6" stroke-width="1.3" stroke-opacity="0.9" filter="url(#b05)"/>
<ellipse cx="141" cy="363" rx="2.2" ry="1.8" fill="#60f060" fill-opacity="0.85" filter="url(#b05)"/>
</g>
<g clip-path="url(#cc32)">
<radialGradient id="g32"><stop offset="0" stop-color="#2c3470"/><stop offset="0.45" stop-color="#2c3470"/><stop offset="1" stop-color="#5060b0"/></radialGradient>
<ellipse cx="193.6" cy="370.4" rx="17" ry="14" fill="none" stroke="#1e2858" stroke-width="2.2" filter="url(#b15)"/>
<ellipse cx="193.6" cy="370.4" rx="15.8" ry="12.8" fill="url(#g32)" filter="url(#b1)"/>
<ellipse cx="191.2" cy="369.5" rx="6" ry="6.5" fill="#c02040" filter="url(#tex)"/>
<ellipse cx="193.6" cy="370.4" rx="15.40" ry="12.40" fill="none" stroke="#78a0e6" stroke-width="2.60" stroke-opacity="0.75" filter="url(#b1)"/>
<ellipse cx="193.6" cy="370.4" rx="15.90" ry="12.90" fill="none" stroke="#78a0e6" stroke-width="1.3" stroke-opacity="0.9" filter="url(#b05)"/>
<ellipse cx="197" cy="376" rx="3.2" ry="3" fill="#50e030" fill-opacity="0.85" filter="url(#b05)"/>
<ellipse cx="200.6" cy="373.2" rx="2.7" ry="2.7" fill="#70e030" fill-opacity="0.85" filter="url(#b05)"/>
</g>
<g clip-path="url(#cc33)">
<radialGradient id="g33"><stop offset="0" stop-color="#34407a"/><stop offset="0.45" stop-color="#34407a"/><stop offset="1" stop-color="#3e5696"/></radialGradient>
<ellipse cx="245.5" cy="370.5" rx="18.5" ry="17.5" fill="none" stroke="#1e2858" stroke-width="2.2" filter="url(#b15)"/>
<ellipse cx="245.5" cy="370.5" rx="17.3" ry="16.3" fill="url(#g33)" filter="url(#b1)"/>
<ellipse cx="245" cy="362.5" rx="6.5" ry="6" fill="#e02040" filter="url(#tex)"/>
<ellipse cx="245.5" cy="370.5" rx="16.80" ry="15.80" fill="none" stroke="#78a0e6" stroke-width="2.80" stroke-opacity="0.75" filter="url(#b1)"/>
<ellipse cx="245.5" cy="370.5" rx="17.40" ry="16.40" fill="none" stroke="#78a0e6" stroke-width="1.3" stroke-opacity="0.9" filter="url(#b05)"/>
<ellipse cx="244.6" cy="369" rx="2.4" ry="2.4" fill="#e0f030" fill-opacity="0.85" filter="url(#b05)"/>
<ellipse cx="252" cy="365" rx="2.8" ry="2.8" fill="#80e040" fill-opacity="0.85" filter="url(#b05)"/>
<ellipse cx="256.6" cy="369" rx="2.8" ry="2.8" fill="#80e040" fill-opacity="0.85" filter="url(#b05)"/>
<ellipse cx="255" cy="374" rx="2.8" ry="2.8" fill="#50e040" fill-opacity="0.85" filter="url(#b05)"/>
<ellipse cx="254" cy="368" rx="2.4" ry="2.4" fill="#a0e040" fill-opacity="0.85" filter="url(#b05)"/>
</g>
<line x1="114.5" y1="190.0" x2="114.5" y2="398.0" stroke="#cccccc" stroke-width="1.2"/>
<line x1="166.8" y1="190.0" x2="166.8" y2="398.0" stroke="#cccccc" stroke-width="1.2"/>
<line x1="218.9" y1="190.0" x2="218.9" y2="398.0" stroke="#cccccc" stroke-width="1.2"/>
<line x1="62.4" y1="241.5" x2="270.8" y2="241.5" stroke="#cccccc" stroke-width="1.2"/>
<line x1="62.4" y1="293.8" x2="270.8" y2="293.8" stroke="#cccccc" stroke-width="1.2"/>
<line x1="62.4" y1="346.1" x2="270.8" y2="346.1" stroke="#cccccc" stroke-width="1.2"/>
<text x="64.6" y="185.4" font-size="8.7" fill="#000" textLength="49.9" lengthAdjust="spacingAndGlyphs">Extra-cellular</text>
<text x="158.3" y="185.4" font-size="8.7" fill="#000" textLength="79.3" lengthAdjust="spacingAndGlyphs">Intracellular bacteria</text>
<text x="56.5" y="211.9" font-size="9.1" fill="#000" stroke="#000" stroke-width="0.1" text-anchor="end">WT</text>
<text x="56.5" y="228.8" font-size="9.1" fill="#000" stroke="#000" stroke-width="0.1" text-anchor="end" font-style="italic" textLength="36.8" lengthAdjust="spacingAndGlyphs">S. aureus</text>
<text x="56.5" y="263.9" font-size="9.1" fill="#000" stroke="#000" stroke-width="0.1" text-anchor="end">KO</text>
<text x="56.5" y="280.8" font-size="9.1" fill="#000" stroke="#000" stroke-width="0.1" text-anchor="end" font-style="italic" textLength="36.8" lengthAdjust="spacingAndGlyphs">S. aureus</text>
<text x="56.5" y="316.2" font-size="9.1" fill="#000" stroke="#000" stroke-width="0.1" text-anchor="end">WT</text>
<text x="56.5" y="333.1" font-size="9.1" fill="#000" stroke="#000" stroke-width="0.1" text-anchor="end" font-style="italic" textLength="24.8" lengthAdjust="spacingAndGlyphs">E. coli</text>
<text x="56.5" y="368.5" font-size="9.1" fill="#000" stroke="#000" stroke-width="0.1" text-anchor="end">KO</text>
<text x="56.5" y="385.4" font-size="9.1" fill="#000" stroke="#000" stroke-width="0.1" text-anchor="end" font-style="italic" textLength="24.8" lengthAdjust="spacingAndGlyphs">E. coli</text>
<text x="369.5" y="196.4" font-size="8.3" font-weight="bold" textLength="59.3" lengthAdjust="spacingAndGlyphs" fill="#000" stroke="#000" stroke-width="0.3">Phagocytosis</text>
<text x="431.5" y="196.4" font-size="8.3" font-style="italic" textLength="25.8" lengthAdjust="spacingAndGlyphs" fill="#111" stroke="#111" stroke-width="0.18">in vitro</text>
<text transform="translate(302.4,274.1) rotate(-90)" x="0" y="2.94" font-size="8.4" text-anchor="middle" textLength="49.3" lengthAdjust="spacingAndGlyphs" fill="#222" stroke="#222" stroke-width="0.2">% Phagocytic cells</text>
<line x1="326.5" y1="214.7" x2="326.5" y2="338" stroke="#222" stroke-width="1.2"/>
<line x1="323.5" y1="219" x2="326.5" y2="219" stroke="#222" stroke-width="1.0"/>
<text x="320.7" y="221.736" font-size="7.6" text-anchor="end" fill="#000" stroke="#000" stroke-width="0.18">60</text>
<line x1="323.5" y1="258.7" x2="326.5" y2="258.7" stroke="#222" stroke-width="1.0"/>
<text x="320.7" y="261.436" font-size="7.6" text-anchor="end" fill="#000" stroke="#000" stroke-width="0.18">40</text>
<line x1="323.5" y1="298.4" x2="326.5" y2="298.4" stroke="#222" stroke-width="1.0"/>
<text x="320.7" y="301.13599999999997" font-size="7.6" text-anchor="end" fill="#000" stroke="#000" stroke-width="0.18">20</text>
<line x1="323.5" y1="338" x2="326.5" y2="338" stroke="#222" stroke-width="1.0"/>
<text x="320.7" y="340.736" font-size="7.6" text-anchor="end" fill="#000" stroke="#000" stroke-width="0.18">0</text>
<line x1="323.5" y1="338" x2="397.9" y2="338" stroke="#222" stroke-width="1.3"/>
<line x1="348.9" y1="338" x2="348.9" y2="340.6" stroke="#222" stroke-width="1.0"/>
<line x1="383.5" y1="338" x2="383.5" y2="340.6" stroke="#222" stroke-width="1.0"/>
<text x="348.9" y="349.8" font-size="7.6" text-anchor="middle" fill="#000" stroke="#000" stroke-width="0.18">WT</text>
<text x="348.9" y="357.0" font-size="7.3" text-anchor="middle" fill="#111" stroke="#111" stroke-width="0.18">n=6</text>
<text x="383.5" y="349.8" font-size="7.6" text-anchor="middle" fill="#000" stroke="#000" stroke-width="0.18">KO</text>
<text x="383.5" y="357.0" font-size="7.3" text-anchor="middle" fill="#111" stroke="#111" stroke-width="0.18">n=5</text>
<line x1="430.2" y1="214.7" x2="430.2" y2="338" stroke="#222" stroke-width="1.2"/>
<line x1="427.2" y1="219" x2="430.2" y2="219" stroke="#222" stroke-width="1.0"/>
<text x="423.5" y="221.736" font-size="7.6" text-anchor="end" fill="#000" stroke="#000" stroke-width="0.18">60</text>
<line x1="427.2" y1="258.7" x2="430.2" y2="258.7" stroke="#222" stroke-width="1.0"/>
<text x="423.5" y="261.436" font-size="7.6" text-anchor="end" fill="#000" stroke="#000" stroke-width="0.18">40</text>
<line x1="427.2" y1="298.4" x2="430.2" y2="298.4" stroke="#222" stroke-width="1.0"/>
<text x="423.5" y="301.13599999999997" font-size="7.6" text-anchor="end" fill="#000" stroke="#000" stroke-width="0.18">20</text>
<line x1="427.2" y1="338" x2="430.2" y2="338" stroke="#222" stroke-width="1.0"/>
<text x="423.5" y="340.736" font-size="7.6" text-anchor="end" fill="#000" stroke="#000" stroke-width="0.18">0</text>
<line x1="427.2" y1="338" x2="508.4" y2="338" stroke="#222" stroke-width="1.3"/>
<line x1="454" y1="338" x2="454" y2="340.6" stroke="#222" stroke-width="1.0"/>
<line x1="488.3" y1="338" x2="488.3" y2="340.6" stroke="#222" stroke-width="1.0"/>
<text x="454" y="349.8" font-size="7.6" text-anchor="middle" fill="#000" stroke="#000" stroke-width="0.18">WT</text>
<text x="454" y="357.0" font-size="7.3" text-anchor="middle" fill="#111" stroke="#111" stroke-width="0.18">n=6</text>
<text x="488.3" y="349.8" font-size="7.6" text-anchor="middle" fill="#000" stroke="#000" stroke-width="0.18">KO</text>
<text x="488.3" y="357.0" font-size="7.3" text-anchor="middle" fill="#111" stroke="#111" stroke-width="0.18">n=5</text>
<text x="353.3" y="211.3" font-size="7.3" fill="#111" stroke="#111" stroke-width="0.18" textLength="31.5" lengthAdjust="spacingAndGlyphs">S. <tspan font-style="italic">aureus</tspan></text>
<text x="369.3" y="220.8" font-size="7" text-anchor="middle" font-style="italic" fill="#222" stroke="#222" stroke-width="0.18">NS</text>
<line x1="348.9" y1="250.2" x2="348.9" y2="264.3" stroke="#356da8" stroke-width="1.0"/>
<line x1="337.4" y1="257.3" x2="360.4" y2="257.3" stroke="#356da8" stroke-width="1.0"/>
<line x1="343.29999999999995" y1="250.2" x2="354.5" y2="250.2" stroke="#356da8" stroke-width="1.0"/>
<line x1="343.29999999999995" y1="264.3" x2="354.5" y2="264.3" stroke="#356da8" stroke-width="1.0"/>
<circle cx="348.9" cy="246.4" r="1.8" fill="#0d4c8c"/>
<circle cx="348.9" cy="250.5" r="1.8" fill="#0d4c8c"/>
<circle cx="345.6" cy="260.6" r="1.8" fill="#0d4c8c"/>
<circle cx="352" cy="258.5" r="1.8" fill="#0d4c8c"/>
<circle cx="345.1" cy="264.3" r="1.8" fill="#0d4c8c"/>
<circle cx="352" cy="264.3" r="1.8" fill="#0d4c8c"/>
<line x1="383.5" y1="249.6" x2="383.5" y2="271" stroke="#c8102e" stroke-width="1.0"/>
<line x1="372.1" y1="260.3" x2="394.9" y2="260.3" stroke="#c8102e" stroke-width="1.0"/>
<line x1="377.7" y1="249.6" x2="389.3" y2="249.6" stroke="#c8102e" stroke-width="1.0"/>
<line x1="377.7" y1="271" x2="389.3" y2="271" stroke="#c8102e" stroke-width="1.0"/>
<path d="M381.85,243.59 L385.15,243.59 L383.50,240.61 Z" fill="#c8102e"/>
<path d="M381.85,261.79 L385.15,261.79 L383.50,258.81 Z" fill="#c8102e"/>
<path d="M375.05,268.19 L378.35,268.19 L376.70,265.21 Z" fill="#c8102e"/>
<path d="M381.85,268.19 L385.15,268.19 L383.50,265.21 Z" fill="#c8102e"/>
<path d="M388.05,268.19 L391.35,268.19 L389.70,265.21 Z" fill="#c8102e"/>
<text x="461.8" y="211.3" font-size="7.3" fill="#111" stroke="#111" stroke-width="0.18" textLength="20" lengthAdjust="spacingAndGlyphs">E. <tspan font-style="italic">coli</tspan></text>
<text x="472.6" y="220.3" font-size="7" text-anchor="middle" font-style="italic" fill="#222" stroke="#222" stroke-width="0.18">NS</text>
<line x1="454" y1="245.3" x2="454" y2="267.3" stroke="#356da8" stroke-width="1.0"/>
<line x1="442.7" y1="256.3" x2="465.3" y2="256.3" stroke="#356da8" stroke-width="1.0"/>
<line x1="448.2" y1="245.3" x2="459.8" y2="245.3" stroke="#356da8" stroke-width="1.0"/>
<line x1="448.2" y1="267.3" x2="459.8" y2="267.3" stroke="#356da8" stroke-width="1.0"/>
<circle cx="454" cy="240.5" r="1.8" fill="#0d4c8c"/>
<circle cx="450.8" cy="249.6" r="1.8" fill="#0d4c8c"/>
<circle cx="457.2" cy="252.5" r="1.8" fill="#0d4c8c"/>
<circle cx="450.8" cy="261" r="1.8" fill="#0d4c8c"/>
<circle cx="457.2" cy="262.7" r="1.8" fill="#0d4c8c"/>
<circle cx="454" cy="271.2" r="1.8" fill="#0d4c8c"/>
<line x1="488.3" y1="241.1" x2="488.3" y2="278.1" stroke="#c8102e" stroke-width="1.0"/>
<line x1="477.2" y1="259.5" x2="499.40000000000003" y2="259.5" stroke="#c8102e" stroke-width="1.0"/>
<line x1="482.8" y1="241.1" x2="493.8" y2="241.1" stroke="#c8102e" stroke-width="1.0"/>
<line x1="482.8" y1="278.1" x2="493.8" y2="278.1" stroke="#c8102e" stroke-width="1.0"/>
<path d="M486.40,233.11 L490.20,233.11 L488.30,229.69 Z" fill="#c8102e"/>
<path d="M486.40,256.41 L490.20,256.41 L488.30,252.99 Z" fill="#c8102e"/>
<path d="M486.40,265.21 L490.20,265.21 L488.30,261.79 Z" fill="#c8102e"/>
<path d="M486.40,276.21 L490.20,276.21 L488.30,272.79 Z" fill="#c8102e"/>
<text x="84" y="425" font-size="7" font-style="italic" textLength="45.6" lengthAdjust="spacingAndGlyphs" fill="#222" stroke="#222" stroke-width="0.18">Phago. in vivo</text>
<text x="110.2" y="437.6" font-size="7.5" text-anchor="middle" font-style="italic" fill="#222" stroke="#222" stroke-width="0.18">NS</text>
<text transform="translate(38.8,491) rotate(-90)" x="0" y="2.52" font-size="7.2" text-anchor="middle" textLength="93.7" lengthAdjust="spacingAndGlyphs" fill="#222" stroke="#222" stroke-width="0.2">% Phagocytic CD45.2 neutrophils</text>
<line x1="67.3" y1="428.5" x2="67.3" y2="551.6" stroke="#222" stroke-width="1.2"/>
<line x1="64.3" y1="431.7" x2="67.3" y2="431.7" stroke="#222" stroke-width="1.0"/>
<text x="61.2" y="434.436" font-size="7.6" text-anchor="end" fill="#000" stroke="#000" stroke-width="0.18">100</text>
<line x1="64.3" y1="455.7" x2="67.3" y2="455.7" stroke="#222" stroke-width="1.0"/>
<text x="61.2" y="458.436" font-size="7.6" text-anchor="end" fill="#000" stroke="#000" stroke-width="0.18">80</text>
<line x1="64.3" y1="479.7" x2="67.3" y2="479.7" stroke="#222" stroke-width="1.0"/>
<text x="61.2" y="482.436" font-size="7.6" text-anchor="end" fill="#000" stroke="#000" stroke-width="0.18">60</text>
<line x1="64.3" y1="503.6" x2="67.3" y2="503.6" stroke="#222" stroke-width="1.0"/>
<text x="61.2" y="506.336" font-size="7.6" text-anchor="end" fill="#000" stroke="#000" stroke-width="0.18">40</text>
<line x1="64.3" y1="527.6" x2="67.3" y2="527.6" stroke="#222" stroke-width="1.0"/>
<text x="61.2" y="530.336" font-size="7.6" text-anchor="end" fill="#000" stroke="#000" stroke-width="0.18">20</text>
<line x1="64.3" y1="551.6" x2="67.3" y2="551.6" stroke="#222" stroke-width="1.0"/>
<text x="61.2" y="554.336" font-size="7.6" text-anchor="end" fill="#000" stroke="#000" stroke-width="0.18">0</text>
<line x1="64.3" y1="551.6" x2="146.5" y2="551.6" stroke="#222" stroke-width="1.3"/>
<line x1="89.8" y1="551.6" x2="89.8" y2="554.2" stroke="#222" stroke-width="1.0"/>
<line x1="123.8" y1="551.6" x2="123.8" y2="554.2" stroke="#222" stroke-width="1.0"/>
<line x1="89.8" y1="460.4" x2="89.8" y2="500.2" stroke="#356da8" stroke-width="1.0"/>
<line x1="78.3" y1="480.2" x2="101.3" y2="480.2" stroke="#356da8" stroke-width="1.0"/>
<line x1="84.0" y1="460.4" x2="95.6" y2="460.4" stroke="#356da8" stroke-width="1.0"/>
<line x1="84.0" y1="500.2" x2="95.6" y2="500.2" stroke="#356da8" stroke-width="1.0"/>
<circle cx="89.8" cy="462.3" r="1.8" fill="#0d4c8c"/>
<circle cx="89.8" cy="465.8" r="1.8" fill="#0d4c8c"/>
<circle cx="89.8" cy="487.6" r="1.8" fill="#0d4c8c"/>
<circle cx="89.8" cy="505.4" r="1.8" fill="#0d4c8c"/>
<line x1="123.8" y1="468.1" x2="123.8" y2="502.1" stroke="#c8102e" stroke-width="1.0"/>
<line x1="112.5" y1="485.1" x2="135.1" y2="485.1" stroke="#c8102e" stroke-width="1.0"/>
<line x1="118.0" y1="468.1" x2="129.6" y2="468.1" stroke="#c8102e" stroke-width="1.0"/>
<line x1="118.0" y1="502.1" x2="129.6" y2="502.1" stroke="#c8102e" stroke-width="1.0"/>
<path d="M122.15,454.19 L125.45,454.19 L123.80,451.21 Z" fill="#c8102e"/>
<path d="M118.95,492.69 L122.25,492.69 L120.60,489.71 Z" fill="#c8102e"/>
<path d="M125.25,490.19 L128.55,490.19 L126.90,487.21 Z" fill="#c8102e"/>
<path d="M122.15,496.88 L125.45,496.88 L123.80,493.91 Z" fill="#c8102e"/>
<path d="M122.15,502.29 L125.45,502.29 L123.80,499.31 Z" fill="#c8102e"/>
<path d="M122.15,486.59 L125.45,486.59 L123.80,483.62 Z" fill="#c8102e"/>
<text x="89.8" y="561.8" font-size="7.6" text-anchor="middle" fill="#000" stroke="#000" stroke-width="0.18">WT</text>
<text x="89.8" y="569.8" font-size="7.3" text-anchor="middle" fill="#111" stroke="#111" stroke-width="0.18">n=4</text>
<text x="123.8" y="561.8" font-size="7.6" text-anchor="middle" fill="#000" stroke="#000" stroke-width="0.18">KO</text>
<text x="123.8" y="569.8" font-size="7.3" text-anchor="middle" fill="#111" stroke="#111" stroke-width="0.18">n=6</text>
<text transform="translate(194.9,486) rotate(-90)" x="0" y="2.59" font-size="7.4" text-anchor="middle" textLength="44.5" lengthAdjust="spacingAndGlyphs" fill="#222" stroke="#222" stroke-width="0.2">(pg/mg protein)</text>
<line x1="226.2" y1="439.4" x2="226.2" y2="545.5" stroke="#222" stroke-width="1.2"/>
<line x1="223.2" y1="442.4" x2="226.2" y2="442.4" stroke="#222" stroke-width="1.0"/>
<text x="220.1" y="445.20799999999997" font-size="7.8" text-anchor="end" textLength="15.0" lengthAdjust="spacingAndGlyphs" fill="#000" stroke="#000" stroke-width="0.18">500</text>
<line x1="223.2" y1="459.7" x2="226.2" y2="459.7" stroke="#222" stroke-width="1.0"/>
<text x="220.1" y="462.508" font-size="7.8" text-anchor="end" textLength="15.0" lengthAdjust="spacingAndGlyphs" fill="#000" stroke="#000" stroke-width="0.18">400</text>
<line x1="223.2" y1="477" x2="226.2" y2="477" stroke="#222" stroke-width="1.0"/>
<text x="220.1" y="479.808" font-size="7.8" text-anchor="end" textLength="15.0" lengthAdjust="spacingAndGlyphs" fill="#000" stroke="#000" stroke-width="0.18">300</text>
<line x1="223.2" y1="494.2" x2="226.2" y2="494.2" stroke="#222" stroke-width="1.0"/>
<text x="220.1" y="497.008" font-size="7.8" text-anchor="end" textLength="15.0" lengthAdjust="spacingAndGlyphs" fill="#000" stroke="#000" stroke-width="0.18">200</text>
<line x1="223.2" y1="511.3" x2="226.2" y2="511.3" stroke="#222" stroke-width="1.0"/>
<text x="220.1" y="514.1080000000001" font-size="7.8" text-anchor="end" textLength="15.0" lengthAdjust="spacingAndGlyphs" fill="#000" stroke="#000" stroke-width="0.18">100</text>
<line x1="223.2" y1="528.6" x2="226.2" y2="528.6" stroke="#222" stroke-width="1.0"/>
<text x="220.1" y="531.408" font-size="7.8" text-anchor="end" fill="#000" stroke="#000" stroke-width="0.18">0</text>
<line x1="229" y1="550" x2="296.5" y2="550" stroke="#222" stroke-width="1.3"/>
<line x1="248" y1="550" x2="248" y2="552.8" stroke="#222" stroke-width="1.0"/>
<line x1="277.6" y1="550" x2="277.6" y2="552.8" stroke="#222" stroke-width="1.0"/>
<text x="242.8" y="426.9" font-size="7.7" font-weight="bold" textLength="37.8" lengthAdjust="spacingAndGlyphs" fill="#000" stroke="#000" stroke-width="0.3">TNF-alpha</text>
<text x="264.5" y="437.6" font-size="7.2" text-anchor="middle" font-style="italic" fill="#222" stroke="#222" stroke-width="0.18">NS</text>
<text x="248" y="560.8" font-size="7.6" text-anchor="middle" fill="#000" stroke="#000" stroke-width="0.18">WT</text>
<text x="248" y="568.4" font-size="7.3" text-anchor="middle" fill="#111" stroke="#111" stroke-width="0.18">n=5</text>
<text x="277.6" y="560.8" font-size="7.6" text-anchor="middle" fill="#000" stroke="#000" stroke-width="0.18">KO</text>
<text x="277.6" y="568.4" font-size="7.3" text-anchor="middle" fill="#111" stroke="#111" stroke-width="0.18">n=5</text>
<line x1="248" y1="495.2" x2="248" y2="513.7" stroke="#356da8" stroke-width="1.0"/>
<line x1="238.5" y1="504.6" x2="257.5" y2="504.6" stroke="#356da8" stroke-width="1.0"/>
<line x1="243.25" y1="495.2" x2="252.75" y2="495.2" stroke="#356da8" stroke-width="1.0"/>
<line x1="243.25" y1="513.7" x2="252.75" y2="513.7" stroke="#356da8" stroke-width="1.0"/>
<circle cx="248" cy="493" r="1.8" fill="#0d4c8c"/>
<circle cx="251.1" cy="499.4" r="1.8" fill="#0d4c8c"/>
<circle cx="245.1" cy="502.1" r="1.8" fill="#0d4c8c"/>
<circle cx="248" cy="512" r="1.8" fill="#0d4c8c"/>
<circle cx="248" cy="515.8" r="1.8" fill="#0d4c8c"/>
<line x1="277.6" y1="472.3" x2="277.6" y2="529.8" stroke="#c8102e" stroke-width="1.0"/>
<line x1="267.85" y1="501.1" x2="287.35" y2="501.1" stroke="#c8102e" stroke-width="1.0"/>
<line x1="272.85" y1="472.3" x2="282.35" y2="472.3" stroke="#c8102e" stroke-width="1.0"/>
<line x1="272.85" y1="529.8" x2="282.35" y2="529.8" stroke="#c8102e" stroke-width="1.0"/>
<path d="M275.95,453.38 L279.25,453.38 L277.60,450.41 Z" fill="#c8102e"/>
<path d="M278.95,505.69 L282.25,505.69 L280.60,502.71 Z" fill="#c8102e"/>
<path d="M272.85,508.29 L276.15,508.29 L274.50,505.31 Z" fill="#c8102e"/>
<path d="M272.85,523.49 L276.15,523.49 L274.50,520.51 Z" fill="#c8102e"/>
<path d="M278.95,522.99 L282.25,522.99 L280.60,520.01 Z" fill="#c8102e"/>
<line x1="334.6" y1="439.2" x2="334.6" y2="545.3" stroke="#222" stroke-width="1.2"/>
<line x1="331.6" y1="443.1" x2="334.6" y2="443.1" stroke="#222" stroke-width="1.0"/>
<text x="328.5" y="445.908" font-size="7.8" text-anchor="end" textLength="20.0" lengthAdjust="spacingAndGlyphs" fill="#000" stroke="#000" stroke-width="0.18">3000</text>
<line x1="331.6" y1="477" x2="334.6" y2="477" stroke="#222" stroke-width="1.0"/>
<text x="328.5" y="479.808" font-size="7.8" text-anchor="end" textLength="20.0" lengthAdjust="spacingAndGlyphs" fill="#000" stroke="#000" stroke-width="0.18">2000</text>
<line x1="331.6" y1="511.2" x2="334.6" y2="511.2" stroke="#222" stroke-width="1.0"/>
<text x="328.5" y="514.008" font-size="7.8" text-anchor="end" textLength="20.0" lengthAdjust="spacingAndGlyphs" fill="#000" stroke="#000" stroke-width="0.18">1000</text>
<line x1="331.6" y1="545.3" x2="334.6" y2="545.3" stroke="#222" stroke-width="1.0"/>
<text x="328.5" y="548.108" font-size="7.8" text-anchor="end" fill="#000" stroke="#000" stroke-width="0.18">0</text>
<line x1="337.5" y1="550" x2="405" y2="550" stroke="#222" stroke-width="1.3"/>
<line x1="355.8" y1="550" x2="355.8" y2="552.8" stroke="#222" stroke-width="1.0"/>
<line x1="384.6" y1="550" x2="384.6" y2="552.8" stroke="#222" stroke-width="1.0"/>
<text x="364" y="426.9" font-size="7.7" font-weight="bold" textLength="20.6" lengthAdjust="spacingAndGlyphs" fill="#000" stroke="#000" stroke-width="0.3">NGAL</text>
<text x="375.5" y="437.6" font-size="7.2" text-anchor="middle" font-style="italic" fill="#222" stroke="#222" stroke-width="0.18">NS</text>
<text x="355.8" y="560.8" font-size="7.6" text-anchor="middle" fill="#000" stroke="#000" stroke-width="0.18">WT</text>
<text x="355.8" y="568.4" font-size="7.3" text-anchor="middle" fill="#111" stroke="#111" stroke-width="0.18">n=5</text>
<text x="384.6" y="560.8" font-size="7.6" text-anchor="middle" fill="#000" stroke="#000" stroke-width="0.18">KO</text>
<text x="384.6" y="568.4" font-size="7.3" text-anchor="middle" fill="#111" stroke="#111" stroke-width="0.18">n=5</text>
<line x1="355.8" y1="466.7" x2="355.8" y2="509.8" stroke="#356da8" stroke-width="1.0"/>
<line x1="346.2" y1="488.3" x2="365.40000000000003" y2="488.3" stroke="#356da8" stroke-width="1.0"/>
<line x1="350.8" y1="466.7" x2="360.8" y2="466.7" stroke="#356da8" stroke-width="1.0"/>
<line x1="350.8" y1="509.8" x2="360.8" y2="509.8" stroke="#356da8" stroke-width="1.0"/>
<circle cx="355.8" cy="458.1" r="1.8" fill="#0d4c8c"/>
<circle cx="355.8" cy="473.8" r="1.8" fill="#0d4c8c"/>
<circle cx="352.3" cy="499.6" r="1.8" fill="#0d4c8c"/>
<circle cx="358.7" cy="499.6" r="1.8" fill="#0d4c8c"/>
<circle cx="355.8" cy="510.2" r="1.8" fill="#0d4c8c"/>
<line x1="384.6" y1="497.9" x2="384.6" y2="511.3" stroke="#c8102e" stroke-width="1.0"/>
<line x1="375.20000000000005" y1="505" x2="394.0" y2="505" stroke="#c8102e" stroke-width="1.0"/>
<line x1="380.1" y1="497.9" x2="389.1" y2="497.9" stroke="#c8102e" stroke-width="1.0"/>
<line x1="380.1" y1="511.3" x2="389.1" y2="511.3" stroke="#c8102e" stroke-width="1.0"/>
<path d="M380.05,499.19 L383.35,499.19 L381.70,496.21 Z" fill="#c8102e"/>
<path d="M386.25,502.29 L389.55,502.29 L387.90,499.31 Z" fill="#c8102e"/>
<path d="M380.05,507.49 L383.35,507.49 L381.70,504.51 Z" fill="#c8102e"/>
<path d="M382.95,517.09 L386.25,517.09 L384.60,514.12 Z" fill="#c8102e"/>
<path d="M386.25,507.49 L389.55,507.49 L387.90,504.51 Z" fill="#c8102e"/>
<line x1="441.1" y1="439.5" x2="441.1" y2="545.1" stroke="#222" stroke-width="1.2"/>
<line x1="438.1" y1="442.8" x2="441.1" y2="442.8" stroke="#222" stroke-width="1.0"/>
<text x="434.2" y="445.608" font-size="7.8" text-anchor="end" textLength="20.0" lengthAdjust="spacingAndGlyphs" fill="#000" stroke="#000" stroke-width="0.18">5000</text>
<line x1="438.1" y1="463.1" x2="441.1" y2="463.1" stroke="#222" stroke-width="1.0"/>
<text x="434.2" y="465.908" font-size="7.8" text-anchor="end" textLength="20.0" lengthAdjust="spacingAndGlyphs" fill="#000" stroke="#000" stroke-width="0.18">4000</text>
<line x1="438.1" y1="483.4" x2="441.1" y2="483.4" stroke="#222" stroke-width="1.0"/>
<text x="434.2" y="486.20799999999997" font-size="7.8" text-anchor="end" textLength="20.0" lengthAdjust="spacingAndGlyphs" fill="#000" stroke="#000" stroke-width="0.18">3000</text>
<line x1="438.1" y1="503.8" x2="441.1" y2="503.8" stroke="#222" stroke-width="1.0"/>
<text x="434.2" y="506.608" font-size="7.8" text-anchor="end" textLength="20.0" lengthAdjust="spacingAndGlyphs" fill="#000" stroke="#000" stroke-width="0.18">2000</text>
<line x1="438.1" y1="524.3" x2="441.1" y2="524.3" stroke="#222" stroke-width="1.0"/>
<text x="434.2" y="527.108" font-size="7.8" text-anchor="end" textLength="20.0" lengthAdjust="spacingAndGlyphs" fill="#000" stroke="#000" stroke-width="0.18">1000</text>
<line x1="438.1" y1="545.0" x2="441.1" y2="545.0" stroke="#222" stroke-width="1.0"/>
<text x="434.2" y="547.808" font-size="7.8" text-anchor="end" fill="#000" stroke="#000" stroke-width="0.18">0</text>
<line x1="443.4" y1="550" x2="510.3" y2="550" stroke="#222" stroke-width="1.3"/>
<line x1="462.2" y1="550" x2="462.2" y2="552.8" stroke="#222" stroke-width="1.0"/>
<line x1="491.1" y1="550" x2="491.1" y2="552.8" stroke="#222" stroke-width="1.0"/>
<text x="466.9" y="426.9" font-size="7.7" font-weight="bold" textLength="18.0" lengthAdjust="spacingAndGlyphs" fill="#000" stroke="#000" stroke-width="0.3">ELA2</text>
<text x="476.7" y="437.6" font-size="7.2" text-anchor="middle" font-style="italic" fill="#222" stroke="#222" stroke-width="0.18">NS</text>
<text x="462.2" y="560.8" font-size="7.6" text-anchor="middle" fill="#000" stroke="#000" stroke-width="0.18">WT</text>
<text x="462.2" y="568.4" font-size="7.3" text-anchor="middle" fill="#111" stroke="#111" stroke-width="0.18">n=5</text>
<text x="491.1" y="560.8" font-size="7.6" text-anchor="middle" fill="#000" stroke="#000" stroke-width="0.18">KO</text>
<text x="491.1" y="568.4" font-size="7.3" text-anchor="middle" fill="#111" stroke="#111" stroke-width="0.18">n=5</text>
<line x1="462.2" y1="474.8" x2="462.2" y2="537" stroke="#356da8" stroke-width="1.0"/>
<line x1="452.5" y1="506.1" x2="471.9" y2="506.1" stroke="#356da8" stroke-width="1.0"/>
<line x1="457.5" y1="474.8" x2="466.9" y2="474.8" stroke="#356da8" stroke-width="1.0"/>
<line x1="457.5" y1="537" x2="466.9" y2="537" stroke="#356da8" stroke-width="1.0"/>
<circle cx="462.2" cy="462.5" r="1.8" fill="#0d4c8c"/>
<circle cx="462.2" cy="480.3" r="1.8" fill="#0d4c8c"/>
<circle cx="462.2" cy="494.8" r="1.8" fill="#0d4c8c"/>
<circle cx="462.2" cy="527.7" r="1.8" fill="#0d4c8c"/>
<circle cx="459" cy="536.6" r="1.8" fill="#0d4c8c"/>
<circle cx="465.3" cy="534.7" r="1.8" fill="#0d4c8c"/>
<line x1="491.1" y1="525.6" x2="491.1" y2="538.1" stroke="#c8102e" stroke-width="1.0"/>
<line x1="481.5" y1="531.6" x2="500.70000000000005" y2="531.6" stroke="#c8102e" stroke-width="1.0"/>
<line x1="486.40000000000003" y1="525.6" x2="495.8" y2="525.6" stroke="#c8102e" stroke-width="1.0"/>
<line x1="486.40000000000003" y1="538.1" x2="495.8" y2="538.1" stroke="#c8102e" stroke-width="1.0"/>
<path d="M489.45,525.28 L492.75,525.28 L491.10,522.31 Z" fill="#c8102e"/>
<path d="M489.45,529.59 L492.75,529.59 L491.10,526.62 Z" fill="#c8102e"/>
<path d="M486.35,540.09 L489.65,540.09 L488.00,537.12 Z" fill="#c8102e"/>
<path d="M493.05,539.28 L496.35,539.28 L494.70,536.31 Z" fill="#c8102e"/>
<rect x="0.5" y="0.5" width="519" height="575" fill="none" stroke="#000" stroke-width="1"/>
</svg></body></html>
